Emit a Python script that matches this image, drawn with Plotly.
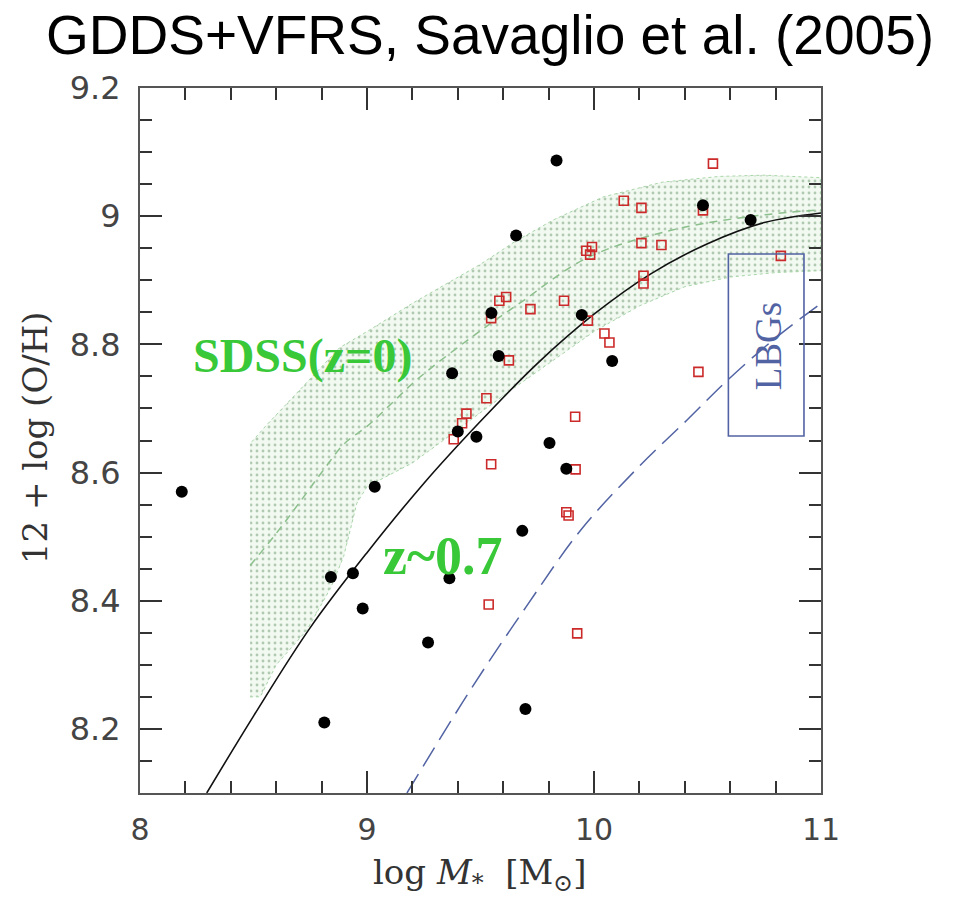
import plotly.graph_objects as go

# --- GDDS + VVDS galaxies (z ~ 0.7) -------------------------------------
gdds_mass = [8.184, 8.812, 8.841, 8.938, 8.981, 9.034, 9.269, 9.363, 9.375, 9.400,
             9.482, 9.548, 9.580, 9.657, 9.684, 9.698, 9.804, 9.835, 9.878, 9.946,
             10.080, 10.480, 10.690]
gdds_oh = [8.570, 8.210, 8.437, 8.443, 8.388, 8.578, 8.335, 8.435, 8.755, 8.664,
           8.656, 8.849, 8.782, 8.970, 8.509, 8.231, 8.646, 9.087, 8.606, 8.846,
           8.774, 9.017, 8.994]

cfrs_mass = [9.382, 9.419, 9.438, 9.526, 9.547, 9.536, 9.547, 9.583, 9.613, 9.625,
             9.720, 9.868, 9.878, 9.888, 9.917, 9.919, 9.926, 9.966, 9.983, 9.991,
             9.973, 10.046, 10.068, 10.131, 10.209, 10.209, 10.218, 10.218, 10.297,
             10.460, 10.480, 10.524, 10.823]
cfrs_oh = [8.652, 8.677, 8.692, 8.716, 8.613, 8.394, 8.841, 8.868, 8.874, 8.775,
           8.855, 8.868, 8.538, 8.533, 8.687, 8.605, 8.349, 8.946, 8.940, 8.952,
           8.837, 8.817, 8.803, 9.024, 9.013, 8.958, 8.907, 8.895, 8.955,
           8.757, 9.009, 9.082, 8.938]

# --- SDSS z=0 relation: median and scatter band --------------------------
sdss_med_mass = [8.485, 8.60, 8.70, 8.80, 8.90, 9.00, 9.10, 9.22, 9.456, 9.676,
                 9.97, 10.34, 10.70, 11.0]
sdss_med_oh = [8.455, 8.505, 8.552, 8.600, 8.645, 8.672, 8.705, 8.745, 8.810, 8.865,
               8.935, 8.978, 9.000, 9.010]

band_low_mass = [8.485, 8.530, 8.600, 8.735, 8.840, 8.897, 8.926, 8.955, 9.000,
                 9.200, 9.320, 9.450, 9.600, 9.800, 10.00, 10.20, 10.40, 10.60,
                 10.80, 11.00]
band_low_oh = [8.250, 8.250, 8.300, 8.354, 8.420, 8.469, 8.510, 8.552, 8.578,
               8.615, 8.646, 8.680, 8.720, 8.770, 8.820, 8.860, 8.890, 8.905,
               8.912, 8.915]

band_up_mass = [8.485, 8.560, 8.690, 8.800, 8.880, 9.000, 9.200, 9.350, 9.500,
                9.650, 9.820, 10.040, 10.300, 10.550, 10.750, 11.00]
band_up_oh = [8.645, 8.675, 8.724, 8.765, 8.795, 8.820, 8.864, 8.895, 8.925,
              8.960, 8.994, 9.030, 9.053, 9.062, 9.064, 9.060]

# --- z ~ 0.7 fit and LBG relation ---------------------------------------
fit_mass = [8.294, 8.50, 8.75, 9.00, 9.25, 9.50, 9.75, 10.00, 10.25, 10.50,
            10.75, 11.00]
fit_oh = [8.100, 8.220, 8.358, 8.475, 8.583, 8.680, 8.770, 8.847, 8.910, 8.957,
          8.990, 9.005]

lbg_curve_mass = [9.176, 9.456, 9.700, 9.941, 10.200, 10.410, 10.588, 10.800, 11.000]
lbg_curve_oh = [8.100, 8.261, 8.390, 8.510, 8.610, 8.682, 8.744, 8.810, 8.864]

lbg_box_mass = [10.592, 10.925]
lbg_box_oh = [8.657, 8.941]

x_ticks = [8, 9, 10, 11]
y_ticks = [8.2, 8.4, 8.6, 8.8, 9.0, 9.2]
y_tick_text = ["8.2", "8.4", "8.6", "8.8", "9", "9.2"]

GREEN_TXT = "#38c838"
BLUE = "#5263a3"

fig = go.Figure()

# SDSS scatter band (stippled)
fig.add_trace(go.Scatter(
    x=band_low_mass + band_up_mass[::-1],
    y=band_low_oh + band_up_oh[::-1],
    mode="lines", fill="toself",
    fillcolor="rgba(240,249,240,1)",
    fillpattern=dict(shape=".", size=6, solidity=0.18,
                     fgcolor="#6f9a6f", bgcolor="#f1f9f1"),
    line=dict(color="#a8d6a8", width=1, dash="dot"),
    hoverinfo="skip", showlegend=False,
))

# SDSS median
fig.add_trace(go.Scatter(
    x=sdss_med_mass, y=sdss_med_oh, mode="lines", line_shape="spline",
    line=dict(color="#8cc08c", width=1.5, dash="8px,6px"),
    showlegend=False,
))

# z~0.7 fit
fig.add_trace(go.Scatter(
    x=fit_mass, y=fit_oh, mode="lines", line_shape="spline",
    line=dict(color="#111111", width=1.6), showlegend=False,
))

# LBG relation
fig.add_trace(go.Scatter(
    x=lbg_curve_mass, y=lbg_curve_oh, mode="lines", line_shape="spline",
    line=dict(color=BLUE, width=1.5, dash="22px,9px"), showlegend=False,
))

# CFRS/VVDS open squares
fig.add_trace(go.Scatter(
    x=cfrs_mass, y=cfrs_oh, mode="markers",
    marker=dict(symbol="square-open", size=9, color="#cc2a2a",
                line=dict(width=1.6, color="#cc2a2a")),
    showlegend=False,
))

# GDDS filled circles
fig.add_trace(go.Scatter(
    x=gdds_mass, y=gdds_oh, mode="markers",
    marker=dict(symbol="circle", size=12, color="#000000"),
    showlegend=False,
))

# LBG box
fig.add_shape(type="rect", xref="x", yref="y",
              x0=lbg_box_mass[0], x1=lbg_box_mass[1],
              y0=lbg_box_oh[0], y1=lbg_box_oh[1],
              line=dict(color=BLUE, width=1.6))

fig.add_annotation(x=10.766, y=8.797, xref="x", yref="y", text="LBGs",
                   textangle=-90, showarrow=False,
                   font=dict(family="Liberation Serif", size=37, color=BLUE))

fig.add_annotation(x=8.718, y=8.782, xref="x", yref="y", text="<b>SDSS(z=0)</b>",
                   showarrow=False,
                   font=dict(family="Liberation Serif", size=48, color=GREEN_TXT))

fig.add_annotation(x=9.335, y=8.470, xref="x", yref="y", text="<b>z~0.7</b>",
                   showarrow=False,
                   font=dict(family="Liberation Serif", size=54, color=GREEN_TXT))

# Title and axis titles
fig.add_annotation(x=0.514, y=1.075, xref="paper", yref="paper",
                   text="GDDS+VFRS, Savaglio et al. (2005)", showarrow=False,
                   xanchor="center", yanchor="middle",
                   font=dict(family="Liberation Sans", size=55, color="#000000"))

fig.add_annotation(x=0.499, y=-0.115, xref="paper", yref="paper",
                   text="log <i>M</i><sub>*</sub>  [M<sub>⊙</sub>]", showarrow=False,
                   xanchor="center", yanchor="middle",
                   font=dict(family="DejaVu Serif", size=34, color="#333333"))

fig.add_annotation(x=-0.154, y=0.5035, xref="paper", yref="paper",
                   text="12 + log (O/H)", showarrow=False, textangle=-90,
                   xanchor="center", yanchor="middle",
                   font=dict(family="DejaVu Serif", size=34, color="#333333"))

axis_common = dict(
    showgrid=False, zeroline=False, showline=True, linecolor="#555555",
    linewidth=2, mirror="allticks", ticks="inside", tickcolor="#333333",
    tickwidth=1.5, ticklen=22,
)

fig.update_xaxes(range=[8, 11], tickvals=x_ticks, ticktext=[str(v) for v in x_ticks],
                 tickfont=dict(family="DejaVu Sans", size=30, color="#444444"),
                 ticklabelstandoff=9,
                 minor=dict(dtick=0.2, tick0=8, ticks="inside", ticklen=12,
                            tickcolor="#333333", tickwidth=1.5),
                 **axis_common)
fig.update_yaxes(range=[8.1, 9.2], tickvals=y_ticks, ticktext=y_tick_text,
                 tickfont=dict(family="DejaVu Sans", size=32, color="#444444"),
                 ticklabelstandoff=11,
                 minor=dict(dtick=0.05, tick0=8.1, ticks="inside", ticklen=12,
                            tickcolor="#333333", tickwidth=1.5),
                 **axis_common)

fig.update_layout(
    width=955, height=897,
    margin=dict(l=140, r=134, t=88, b=104),
    paper_bgcolor="white", plot_bgcolor="white",
    showlegend=False,
)

fig.write_html("out.html")
